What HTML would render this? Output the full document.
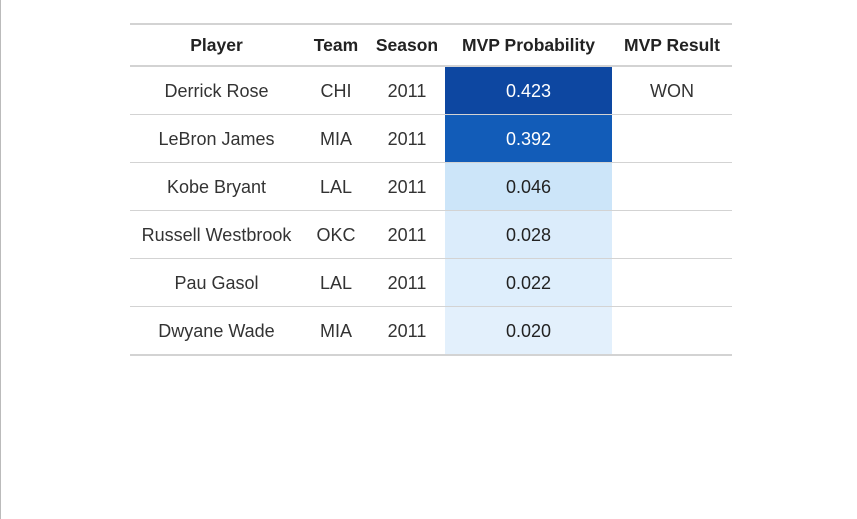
<!DOCTYPE html>
<html><head><meta charset="utf-8"><style>
body{margin:0;width:857px;height:519px;background:#fff;position:relative;overflow:hidden;font-family:"Liberation Sans","DejaVu Sans",sans-serif;}
#lb{position:absolute;left:0;top:0;width:1px;height:519px;background:#bbb}
table{position:absolute;left:130px;top:23px;border-collapse:collapse;border-top:2px solid #d3d3d3;border-bottom:2px solid #d3d3d3;color:#333;font-size:18px}
th{height:40px;font-weight:bold;color:#222;border-bottom:2px solid #d3d3d3;padding:0;text-align:center;font-size:17.5px}
td{height:45px;padding:2px 0 0 0;border-top:1px solid #d3d3d3;text-align:center}
</style></head><body>
<div id="lb"></div>
<table>
<thead><tr>
<th style="width:173px">Player</th>
<th style="width:66px">Team</th>
<th style="width:76px">Season</th>
<th style="width:167px">MVP Probability</th>
<th style="width:120px">MVP Result</th>
</tr></thead>
<tbody id="tb"></tbody></table>
<script>
const players=["Derrick Rose","LeBron James","Kobe Bryant","Russell Westbrook","Pau Gasol","Dwyane Wade"];
const teams=["CHI","MIA","LAL","OKC","LAL","MIA"];
const seasons=["2011","2011","2011","2011","2011","2011"];
const probs=[0.423,0.392,0.046,0.028,0.022,0.020];
const results=["WON","","","","",""];
const colors=["#0d47a1","#125cb8","#cce5f9","#dbecfb","#deeefc","#e3f0fc"];
const tb=document.getElementById('tb');
players.forEach((p,i)=>{
  const tr=document.createElement('tr');
  
  
  const vals=[p,teams[i],seasons[i],probs[i].toFixed(3),results[i]];
  const names=['player-cell','team-cell','season-cell','probability-cell','result-cell'];
  vals.forEach((v,j)=>{
    const td=document.createElement('td');
    
    
    td.textContent=v;
    if(j===3){td.style.background=colors[i];td.style.color=probs[i]>0.2?'#fff':'#222';}
    tr.appendChild(td);
  });
  tb.appendChild(tr);
});
</script>
</body></html>
